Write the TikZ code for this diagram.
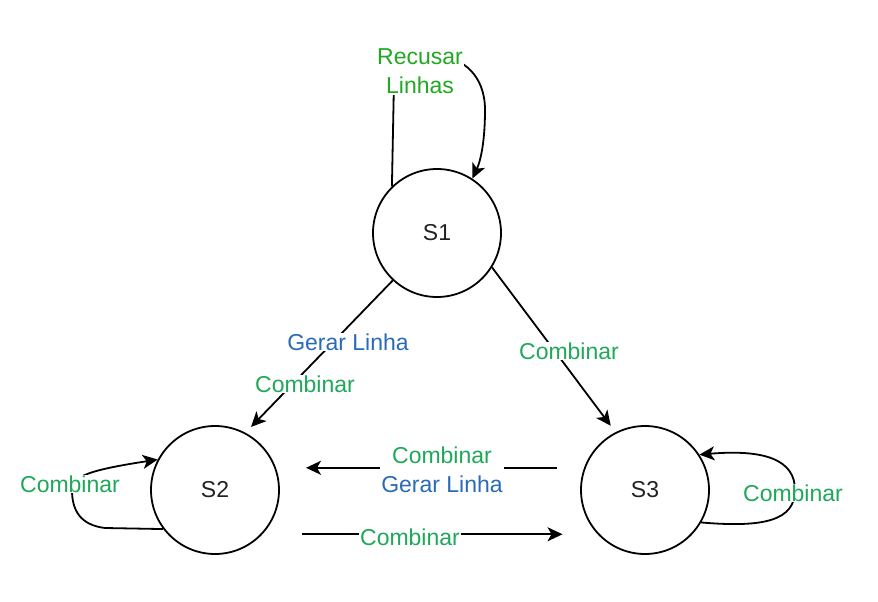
\documentclass[tikz,border=0pt]{standalone}
\usepackage{fontspec}
\setmainfont{Liberation Sans}
\usetikzlibrary{arrows.meta}
\definecolor{cgreen}{HTML}{1FA85A}
\definecolor{rgreen}{HTML}{22A822}
\definecolor{gblue}{HTML}{2A6BB8}
\definecolor{stxt}{HTML}{222222}
\begin{document}
\begin{tikzpicture}[x=1pt,y=-1pt,
  state/.style={circle,draw,line width=1.8pt,minimum size=128pt,inner sep=0pt,text=stxt,font=\fontsize{23}{28}\selectfont},
  edge/.style={line width=1.8pt,-{Stealth[length=15pt,width=14pt,inset=4pt]}},
  lbl/.style={fill=white,inner sep=1pt,font=\fontsize{23}{29}\selectfont,align=center}]
\useasboundingbox (0,0) rectangle (878,602);

\node[state] (S1) at (437,233) {S1};
\node[state] (S2) at (215,490) {S2};
\node[state] (S3) at (645,490) {S3};

% self loops
\draw[edge] (S1.134) -- (394,80) .. controls (396,45) and (485,40) .. (485,110)
   .. controls (485,140) and (481,160) .. (S1.57);
\draw[edge] (S2.217) -- (105,528) .. controls (80,525) and (72,510) .. (72,490)
   .. controls (72,476) and (90,470) .. (S2.152);
\draw[edge] (S3.-30) .. controls (765,528) and (795,520) .. (795,490)
   .. controls (795,460) and (765,449) .. (S3.33);

% between states
\draw[edge,shorten >=8pt] (S1.227) -- (S2.62);
\draw[edge,shorten >=8pt] (S1.-32) -- (S3.117);
\draw[edge,shorten <=27pt,shorten >=30pt] (S3.160) -- (S2.20);
\draw[edge,shorten <=40pt,shorten >=35pt] (S2.-43.5) -- (S3.223.5);

% labels
\node[lbl,text=rgreen] (l1) at (420,71) {Recusar\\Linhas};
\node[lbl,text=gblue] (l2) at (348,342) {Gerar Linha};
\node[lbl,text=cgreen] (l3) at (305,384) {Combinar};
\node[lbl,text=cgreen] (l4) at (569,351) {Combinar};
\node[lbl] (l5) at (442,470) {\textcolor{cgreen}{Combinar}\\\textcolor{gblue}{Gerar Linha}};
\node[lbl,text=cgreen] (l6) at (410,537) {Combinar};
\node[lbl,text=cgreen] (l7) at (70,484) {Combinar};
\node[lbl,text=cgreen] (l8) at (793,493) {Combinar};
\end{tikzpicture}
\end{document}
